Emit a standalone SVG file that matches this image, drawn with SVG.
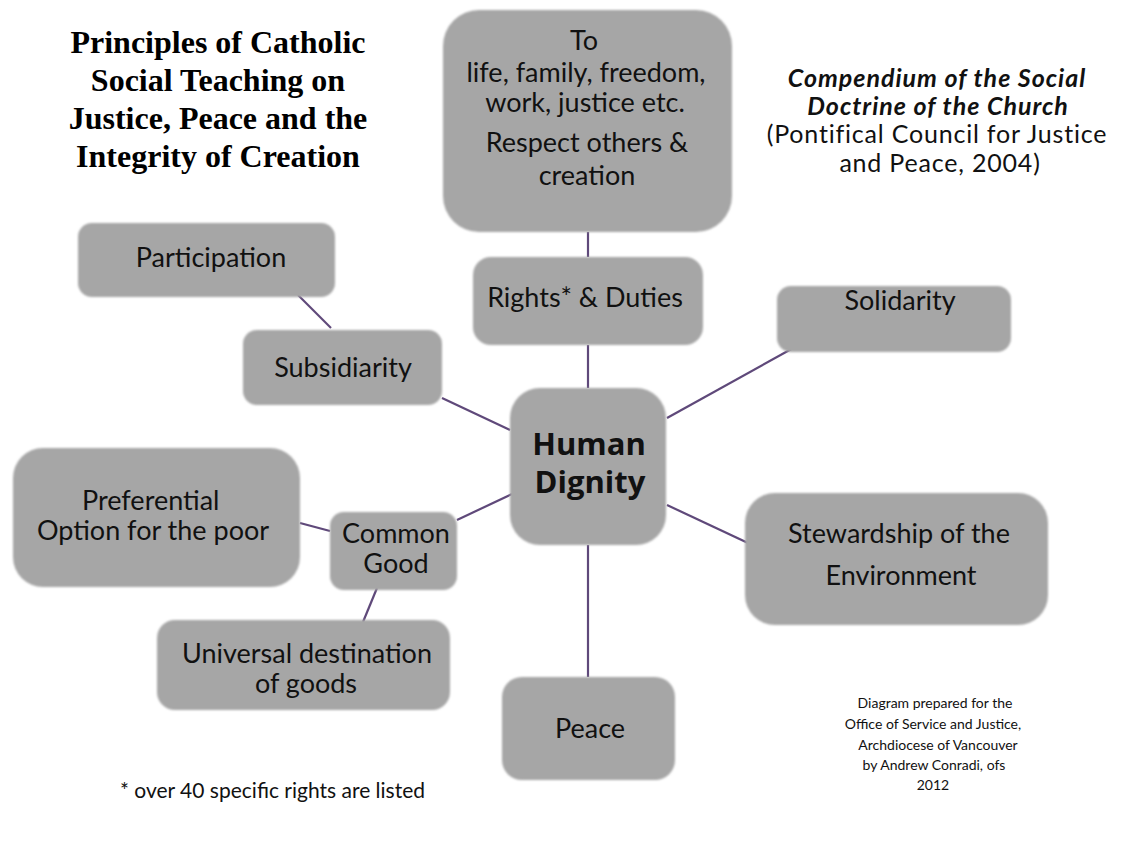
<svg xmlns="http://www.w3.org/2000/svg" width="1125" height="853" viewBox="0 0 1125 853">
<defs>
<filter id="soft" x="-5%" y="-5%" width="110%" height="110%"><feGaussianBlur stdDeviation="1.3"/></filter>
<style>
.box{fill:#a6a6a6;filter:url(#soft)}
.t{font-family:Lato,"Open Sans","Noto Sans",sans-serif;fill:#111;font-size:27px}
.m{text-anchor:middle}
.b{font-weight:bold}
.hd{font-family:"Open Sans","Noto Sans",sans-serif;font-weight:bold;font-size:31px;fill:#111;text-anchor:middle}
.c line{stroke:#5f497a;stroke-width:2.2}
.title{font-family:"Liberation Serif","Times New Roman",serif;font-weight:bold;font-size:32px;fill:#000;text-anchor:middle}
.src{font-size:25px;letter-spacing:0.8px}
.srcb{font-size:25px;letter-spacing:1px;font-weight:bold;font-style:italic}
.sm{font-size:14px}
.fn{font-size:21px}
</style>
</defs>
<rect width="1125" height="853" fill="#fff"/>
<g id="title">
<text class="title" x="218" y="53">Principles of Catholic</text>
<text class="title" x="218" y="91">Social Teaching on</text>
<text class="title" x="218" y="129">Justice, Peace and the</text>
<text class="title" x="218" y="167">Integrity of Creation</text>
</g>
<g id="source">
<text class="t m srcb" x="937" y="87">Compendium of the Social</text>
<text class="t m srcb" x="938" y="115">Doctrine of the Church</text>
<text class="t m src" x="937" y="143">(Pontifical Council for Justice</text>
<text class="t m src" x="940" y="172">and Peace, 2004)</text>
</g>
<g class="c" id="connectors">
<line x1="588" y1="232" x2="588" y2="257"/>
<line x1="588" y1="345" x2="588" y2="388"/>
<line x1="588" y1="545" x2="588" y2="677"/>
<line x1="298" y1="295" x2="331" y2="328"/>
<line x1="442" y1="398" x2="510" y2="430"/>
<line x1="795" y1="347" x2="667" y2="418"/>
<line x1="667" y1="505" x2="767" y2="552"/>
<line x1="457" y1="520" x2="512" y2="494"/>
<line x1="300" y1="523" x2="330" y2="531"/>
<line x1="377" y1="588" x2="363" y2="622"/>
</g>
<g id="rights-list">
<rect class="box" x="443" y="10" width="289" height="222" rx="36"/>
<text class="t" x="570" y="50">To</text>
<text class="t m" x="586" y="82">life, family, freedom,</text>
<text class="t m" x="585" y="112">work, justice etc.</text>
<text class="t m" x="587" y="152">Respect others &amp;</text>
<text class="t m" x="587" y="185">creation</text>
</g>
<g id="participation">
<rect class="box" x="78" y="223" width="257" height="74" rx="14"/>
<text class="t m" x="211" y="267">Participation</text>
</g>
<g id="subsidiarity">
<rect class="box" x="243" y="330" width="199" height="75" rx="14"/>
<text class="t m" x="343" y="377">Subsidiarity</text>
</g>
<g id="rights">
<rect class="box" x="473" y="257" width="230" height="88" rx="18"/>
<text class="t m" x="585" y="307">Rights* &amp; Duties</text>
</g>
<g id="solidarity">
<rect class="box" x="777" y="286" width="234" height="66" rx="14"/>
<text class="t m" x="900" y="310">Solidarity</text>
</g>
<g id="human-dignity">
<rect class="box" x="510" y="388" width="156" height="157" rx="30"/>
<text class="hd" x="589" y="455">Human</text>
<text class="hd" x="590" y="493">Dignity</text>
</g>
<g id="preferential">
<rect class="box" x="13" y="448" width="287" height="139" rx="30"/>
<text class="t" x="82" y="510">Preferential</text>
<text class="t m" x="153" y="540">Option for the poor</text>
</g>
<g id="common-good">
<rect class="box" x="330" y="512" width="127" height="78" rx="14"/>
<text class="t m" x="396" y="543">Common</text>
<text class="t m" x="396" y="573">Good</text>
</g>
<g id="universal">
<rect class="box" x="157" y="620" width="293" height="90" rx="18"/>
<text class="t m" x="307" y="663">Universal destination</text>
<text class="t m" x="306" y="693">of goods</text>
</g>
<g id="stewardship">
<rect class="box" x="745" y="493" width="303" height="132" rx="30"/>
<text class="t m" x="899" y="543">Stewardship of the</text>
<text class="t m" x="901" y="585">Environment</text>
</g>
<g id="peace">
<rect class="box" x="502" y="677" width="173" height="103" rx="20"/>
<text class="t" x="555" y="738">Peace</text>
</g>
<g id="credits">
<text class="t m sm" x="935" y="708">Diagram prepared for the</text>
<text class="t m sm" x="933" y="729">Office of Service and Justice,</text>
<text class="t m sm" x="938" y="750">Archdiocese of Vancouver</text>
<text class="t m sm" x="934" y="770">by Andrew Conradi, ofs</text>
<text class="t m sm" x="933" y="790">2012</text>
</g>
<g id="footnote">
<text class="t fn" x="120" y="798">* over 40 specific rights are listed</text>
</g>
</svg>
